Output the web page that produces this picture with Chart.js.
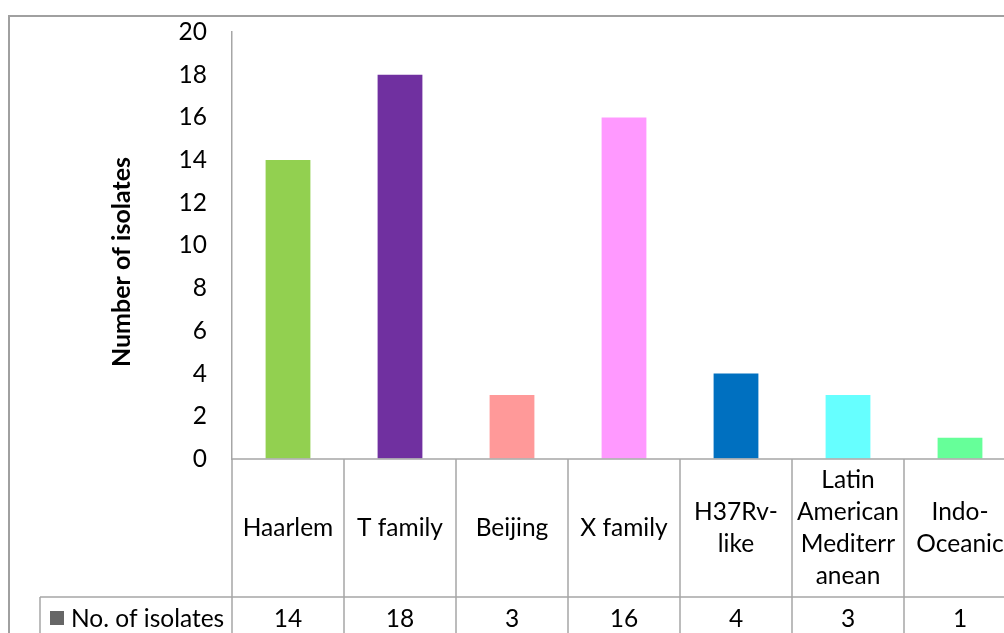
<!DOCTYPE html>
<html>
<head>
<meta charset="utf-8">
<style>
  html, body { margin: 0; padding: 0; background: #fff; overflow: hidden; }
  canvas { display: block; }
</style>
<script src="https://cdn.jsdelivr.net/npm/chart.js@4/dist/chart.umd.min.js"></script>
</head>
<body>
<canvas id="c" width="1030" height="633"></canvas>
<script>
const categories = [
  ["Haarlem"],
  ["T family"],
  ["Beijing"],
  ["X family"],
  ["H37Rv-", "like"],
  ["Latin", "American", "Mediterr", "anean"],
  ["Indo-", "Oceanic"]
];
const seriesName = "No. of isolates";
const isolates = [14, 18, 3, 16, 4, 3, 1];
const barColors = ["#92D050", "#7030A0", "#FF9999", "#FF99FF", "#0070C0", "#66FFFF", "#66FF99"];
const yTicks = [0, 2, 4, 6, 8, 10, 12, 14, 16, 18, 20];
const yTitle = "Number of isolates";

const FONT = "Lato, 'Open Sans', sans-serif";
const FS = 24.5;
const LINE = "#A6A6A6";

const tablePlugin = {
  id: 'dataTable',
  afterDraw(chart) {
    const ctx = chart.ctx;
    const area = chart.chartArea;
    const xs = chart.scales.x;
    const n = categories.length;
    const step = (area.right - area.left) / n;
    const rowTop = area.bottom;
    const rowMid = 597;
    const bottom = chart.height + 5;
    ctx.save();
    // outer chart border
    ctx.strokeStyle = "#A0A0A0";
    ctx.lineWidth = 2;
    ctx.beginPath();
    ctx.moveTo(9, chart.height + 5);
    ctx.lineTo(9, 16);
    ctx.lineTo(chart.width + 5, 16);
    ctx.stroke();

    ctx.strokeStyle = LINE;
    ctx.lineWidth = 1.5;
    ctx.beginPath();
    ctx.moveTo(area.left, rowTop); ctx.lineTo(chart.width, rowTop);
    ctx.moveTo(40, rowMid); ctx.lineTo(chart.width, rowMid);
    ctx.moveTo(40, rowMid); ctx.lineTo(40, bottom);
    for (let i = 0; i <= n; i++) {
      const x = xs.getPixelForValue(0) - step / 2 + i * step;
      ctx.moveTo(x, rowTop); ctx.lineTo(x, bottom);
    }
    ctx.stroke();

    ctx.fillStyle = "#000";
    ctx.font = FS + "px " + FONT;
    ctx.textAlign = "center";
    ctx.textBaseline = "middle";
    const lh = 32;
    const labelCenter = (rowTop + rowMid) / 2;
    categories.forEach((lines, i) => {
      const cx = xs.getPixelForValue(i);
      const y0 = labelCenter - (lines.length - 1) * lh / 2;
      lines.forEach((t, j) => ctx.fillText(t, cx, y0 + j * lh));
      ctx.fillText(String(isolates[i]), cx, 619);
    });

    ctx.fillStyle = "#666666";
    ctx.fillRect(50, 611, 14, 14);
    ctx.fillStyle = "#000";
    ctx.textAlign = "left";
    ctx.fillText(seriesName, 71, 619);

    // y axis title
    ctx.translate(122, 262);
    ctx.rotate(-Math.PI / 2);
    ctx.textAlign = "center";
    ctx.font = "bold 25px " + FONT;
    ctx.fillText(yTitle, 0, 0);
    ctx.restore();
  }
};

new Chart(document.getElementById('c'), {
  type: 'bar',
  data: {
    labels: categories.map(l => l.join(' ')),
    datasets: [{
      label: seriesName,
      data: isolates,
      backgroundColor: barColors,
      borderWidth: 0,
      barPercentage: 0.4,
      categoryPercentage: 1.0
    }]
  },
  options: {
    responsive: false,
    animation: false,
    devicePixelRatio: 1,
    layout: { padding: { left: 0, right: 14, top: 32, bottom: 174 } },
    plugins: { legend: { display: false }, tooltip: { enabled: false } },
    scales: {
      x: { display: false },
      y: {
        min: 0, max: 20,
        afterBuildTicks(scale) { scale.ticks = yTicks.map(v => ({ value: v })); },
        afterFit(scale) { scale.width = 232; },
        grid: {
          display: true,
          drawOnChartArea: false,
          drawTicks: true,
          tickLength: 22,
          color: 'rgba(0,0,0,0)'
        },
        border: { display: true, color: LINE, width: 1.5 },
        ticks: {
          color: "#000",
          padding: 3,
          font: { family: FONT, size: FS }
        }
      }
    }
  },
  plugins: [tablePlugin]
});
</script>
</body>
</html>
